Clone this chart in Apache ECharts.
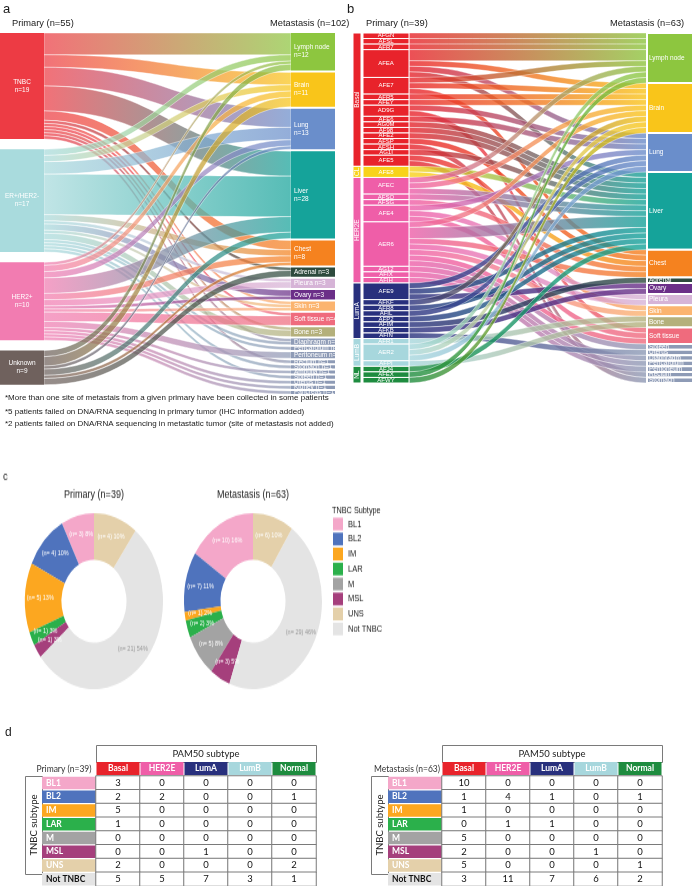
<!DOCTYPE html>
<html><head><meta charset="utf-8">
<script src="https://cdn.jsdelivr.net/npm/echarts@6/dist/echarts.min.js"></script>
<style>
html,body{margin:0;padding:0;background:#fff;}
#wrap{position:relative;width:693px;height:886px;overflow:hidden;background:#fff;}
#main{position:absolute;left:0;top:0;width:693px;height:886px;}
#pies{position:absolute;left:0;top:466px;width:693px;height:184px;transform:scaleY(1.275);transform-origin:0 0;}
</style></head><body>
<div id="wrap"><div id="main"></div><div id="pies"></div></div>
<script>
// ================= DATA =================
// Panel a
const aPrimary = ['TNBC', 'ER+/HER2-', 'HER2+', 'Unknown'];
const aPrimaryN = [19, 17, 10, 9];
const aSites = ['Lymph node', 'Brain', 'Lung', 'Liver', 'Chest', 'Adrenal', 'Pleura', 'Ovary', 'Skin', 'Soft tissue', 'Bone',
  'Diaphragm', 'Pericardium', 'Peritoneum', 'Rectum', 'Stomach', 'Ampulla', 'Spleen', 'Uterus', 'Kidney', 'Pancreas'];
const aLinks = [
  ['TNBC', 'Lymph node', 7], ['TNBC', 'Brain', 4], ['TNBC', 'Lung', 6], ['TNBC', 'Liver', 8], ['TNBC', 'Chest', 3],
  ['TNBC', 'Adrenal', 1], ['TNBC', 'Skin', 1], ['TNBC', 'Soft tissue', 1], ['TNBC', 'Bone', 1], ['TNBC', 'Diaphragm', 1], ['TNBC', 'Rectum', 1],
  ['ER+/HER2-', 'Lymph node', 2], ['ER+/HER2-', 'Brain', 2], ['ER+/HER2-', 'Lung', 4], ['ER+/HER2-', 'Liver', 13], ['ER+/HER2-', 'Chest', 2],
  ['ER+/HER2-', 'Pleura', 1], ['ER+/HER2-', 'Ovary', 2], ['ER+/HER2-', 'Skin', 1], ['ER+/HER2-', 'Bone', 2], ['ER+/HER2-', 'Diaphragm', 1],
  ['ER+/HER2-', 'Pericardium', 1], ['ER+/HER2-', 'Stomach', 1], ['ER+/HER2-', 'Spleen', 1],
  ['HER2+', 'Lymph node', 1], ['HER2+', 'Brain', 2], ['HER2+', 'Lung', 2], ['HER2+', 'Liver', 5], ['HER2+', 'Chest', 2],
  ['HER2+', 'Pleura', 2], ['HER2+', 'Ovary', 1], ['HER2+', 'Skin', 1], ['HER2+', 'Soft tissue', 3], ['HER2+', 'Peritoneum', 2],
  ['HER2+', 'Ampulla', 1], ['HER2+', 'Uterus', 1], ['HER2+', 'Kidney', 1], ['HER2+', 'Pancreas', 1],
  ['Unknown', 'Lymph node', 2], ['Unknown', 'Brain', 3], ['Unknown', 'Lung', 1], ['Unknown', 'Liver', 2], ['Unknown', 'Chest', 1], ['Unknown', 'Adrenal', 2]
];

// Panel b
const bSubtypes = ['Basal', 'CL', 'HER2E', 'LumA', 'LumB', 'NL'];
const bPatients = ['AFGN', 'AFSL', 'AFR7', 'AFEA', 'AFE7', 'AFR5', 'AFEY', 'AD9G', 'AFE6', 'AG0M', 'AF98', 'AFE2', 'AFSP', 'AFSH', 'AG1I', 'AFE5',
  'AFE8',
  'AFEC', 'AFSQ', 'AFSG', 'AFE4', 'AER6', 'AG12', 'AFIX', 'AFIH',
  'AFE9', 'AFKF', 'AFR8', 'AFIL', 'AFP2', 'AFIM', 'AFKB', 'AFIN',
  'AFR1', 'AER2', 'AFPI',
  'AFJ4', 'AFEX', 'AFWY'];
const bPatientSubtype = ['Basal', 'Basal', 'Basal', 'Basal', 'Basal', 'Basal', 'Basal', 'Basal', 'Basal', 'Basal', 'Basal', 'Basal', 'Basal', 'Basal', 'Basal', 'Basal',
  'CL',
  'HER2E', 'HER2E', 'HER2E', 'HER2E', 'HER2E', 'HER2E', 'HER2E', 'HER2E',
  'LumA', 'LumA', 'LumA', 'LumA', 'LumA', 'LumA', 'LumA', 'LumA',
  'LumB', 'LumB', 'LumB',
  'NL', 'NL', 'NL'];
const bSites = ['Lymph node', 'Brain', 'Lung', 'Liver', 'Chest', 'Adrenal', 'Ovary', 'Pleura', 'Skin', 'Bone', 'Soft tissue',
  'Spleen', 'Uterus', 'Diaphragm', 'Pericardium', 'Peritoneum', 'Rectum', 'Stomach'];
const bLinks = [
  ['AFGN', 'Lymph node', 1], ['AFSL', 'Lymph node', 1], ['AFR7', 'Lymph node', 1],
  ['AFEA', 'Lymph node', 2], ['AFEA', 'Brain', 1], ['AFEA', 'Lung', 1], ['AFEA', 'Liver', 1],
  ['AFE7', 'Lymph node', 1], ['AFE7', 'Brain', 1], ['AFE7', 'Chest', 1],
  ['AFR5', 'Brain', 1], ['AFEY', 'Brain', 1], ['AD9G', 'Lung', 1], ['AD9G', 'Soft tissue', 1],
  ['AFE6', 'Lung', 1], ['AG0M', 'Liver', 1], ['AF98', 'Liver', 1], ['AFE2', 'Liver', 1], ['AFSP', 'Chest', 1],
  ['AFSH', 'Rectum', 1], ['AG1I', 'Liver', 1], ['AFE5', 'Skin', 1], ['AFE5', 'Stomach', 1],
  ['AFE8', 'Liver', 1], ['AFE8', 'Chest', 1],
  ['AFEC', 'Lymph node', 1], ['AFEC', 'Brain', 1], ['AFEC', 'Liver', 1], ['AFSQ', 'Liver', 1], ['AFSG', 'Chest', 1],
  ['AFE4', 'Lung', 1], ['AFE4', 'Pleura', 1], ['AFE4', 'Soft tissue', 1],
  ['AER6', 'Brain', 1], ['AER6', 'Liver', 2], ['AER6', 'Chest', 1], ['AER6', 'Pleura', 1], ['AER6', 'Skin', 1], ['AER6', 'Soft tissue', 1], ['AER6', 'Spleen', 1],
  ['AG12', 'Diaphragm', 1], ['AFIX', 'Pericardium', 1], ['AFIH', 'Peritoneum', 1],
  ['AFE9', 'Lung', 1], ['AFE9', 'Liver', 1], ['AFE9', 'Ovary', 1],
  ['AFKF', 'Brain', 1], ['AFR8', 'Liver', 1], ['AFIL', 'Lung', 1], ['AFP2', 'Liver', 1], ['AFIM', 'Adrenal', 1], ['AFKB', 'Ovary', 1], ['AFIN', 'Uterus', 1],
  ['AFR1', 'Bone', 1], ['AER2', 'Lymph node', 1], ['AER2', 'Brain', 1], ['AER2', 'Lung', 1], ['AFPI', 'Bone', 1],
  ['AFJ4', 'Liver', 1], ['AFEX', 'Lymph node', 1], ['AFWY', 'Brain', 1]
];

// Panel c
const tnbcCats = ['BL1', 'BL2', 'IM', 'LAR', 'M', 'MSL', 'UNS', 'Not TNBC'];
const piePrimary = [3, 4, 5, 1, 0, 1, 4, 21];
const pieMetastasis = [10, 7, 1, 2, 5, 3, 6, 29];

// Panel d
const pamCols = ['Basal', 'HER2E', 'LumA', 'LumB', 'Normal'];
const tablePrimary = [
  [3, 0, 0, 0, 0], [2, 2, 0, 0, 1], [5, 0, 0, 0, 0], [1, 0, 0, 0, 0],
  [0, 0, 0, 0, 0], [0, 0, 1, 0, 0], [2, 0, 0, 0, 2], [5, 5, 7, 3, 1]
];
const tableMetastasis = [
  [10, 0, 0, 0, 0], [1, 4, 1, 0, 1], [1, 0, 0, 0, 0], [0, 1, 1, 0, 0],
  [5, 0, 0, 0, 0], [2, 0, 0, 1, 0], [5, 0, 0, 0, 1], [3, 11, 7, 6, 2]
];

// ================= STYLES =================
const FONT = 'Liberation Sans';
const aPrimaryColors = ['#ed3b44', '#a9dbdd', '#f27cb1', '#6f615d'];
const siteColorMap = {
  'Lymph node': '#8dc63f', 'Brain': '#f9c51a', 'Lung': '#6a8ecb', 'Liver': '#15a39a', 'Chest': '#f5821f',
  'Adrenal': '#2d4a3d', 'Pleura': '#d6b4d7', 'Ovary': '#6b2f88', 'Skin': '#fbb46f', 'Soft tissue': '#ef6b7d', 'Bone': '#b4b07b'
};
const minorSiteColor = '#8e9bb6';
const siteColor = s => siteColorMap[s] || minorSiteColor;
const bSubtypeColors = ['#e8232b', '#f8d31a', '#ef5ea8', '#28307d', '#a7d7dd', '#1e8c3f'];
const pamColors = ['#e8232b', '#ef5ea8', '#28307d', '#a7d7dd', '#1e8c3f'];
const tnbcColors = ['#f4a7c9', '#4f73bd', '#fca720', '#2bb04b', '#a3a3a3', '#a53f7c', '#e4d0aa', '#e4e4e4'];
const pieDrawOrder = [0, 1, 2, 3, 4, 5, 7, 6]; // counter-clockwise from 12 o'clock, UNS closes the ring
const GAP_UNITS = 2; // visual spacer between primary groups in panel a

// ================= PANEL a nodes =================
const sumTo = (links, t) => links.filter(l => l[1] === t).reduce((s, l) => s + l[2], 0);
const sumFrom = (links, t) => links.filter(l => l[0] === t).reduce((s, l) => s + l[2], 0);
const aNodes = [];
aPrimary.forEach((p, i) => {
  if (i > 0) aNodes.push({ name: '__gap' + i, value: GAP_UNITS, depth: 0, itemStyle: { color: 'rgba(0,0,0,0)' }, label: { show: false } });
  aNodes.push({ name: p, depth: 0, itemStyle: { color: aPrimaryColors[i] },
    label: { show: true, position: 'inside', align: 'center', formatter: p + '\nn=' + aPrimaryN[i] } });
});
aSites.forEach(s => {
  const n = sumTo(aLinks, s);
  aNodes.push({ name: s, depth: 1, itemStyle: { color: siteColor(s) },
    label: { show: true, position: 'insideLeft', distance: 3, formatter: n >= 8 ? s + '\nn=' + n : s + ' n=' + n } });
});

// ================= PANEL b nodes =================
const b1Nodes = [], b1Links = [], b2Nodes = [];
bSubtypes.forEach((s, i) => b1Nodes.push({ name: 'st_' + s, depth: 0, itemStyle: { color: bSubtypeColors[i], borderColor: '#fff', borderWidth: 1 },
  label: { show: true, position: 'inside', rotate: 90, formatter: s, fontSize: 6.5 } }));
bPatients.forEach((p, i) => {
  const tot = sumFrom(bLinks, p);
  b1Nodes.push({ name: p, depth: 1, itemStyle: { color: 'rgba(0,0,0,0)' }, label: { show: false } });
  b1Links.push({ source: 'st_' + bPatientSubtype[i], target: p, value: tot });
  b2Nodes.push({ name: p, depth: 0,
    itemStyle: { color: bSubtypeColors[bSubtypes.indexOf(bPatientSubtype[i])], borderColor: '#fff', borderWidth: 1 },
    label: { show: true, position: 'inside', formatter: p, fontSize: 6 } });
});
bSites.forEach(s => b2Nodes.push({ name: s, depth: 1, itemStyle: { color: siteColor(s), borderColor: '#fff', borderWidth: 2 },
  label: { show: true, position: 'insideLeft', distance: 3, formatter: s, fontSize: 6.5 } }));

// ================= TABLES =================
function heat(m) { const d = []; m.forEach((row, r) => row.forEach((v, c) => d.push([c, r, v]))); return d; }
const colRich = {}; pamCols.forEach((c, i) => colRich['c' + i] = {
  backgroundColor: pamColors[i], color: '#fff', fontWeight: 'bold', fontSize: 8.5, fontFamily: 'Lato',
  width: 43, height: 13, lineHeight: 13, align: 'center', verticalAlign: 'middle' });
const rowRich = {}; tnbcCats.forEach((c, i) => rowRich['r' + i] = {
  backgroundColor: tnbcColors[i], color: i === 7 ? '#111' : '#fff', fontWeight: 'bold', fontSize: 8.5, fontFamily: 'Lato',
  width: 50, height: 12.5, lineHeight: 13, padding: [0, 0, 0, 4], align: 'left', verticalAlign: 'middle' });

function tableAxes(gi) {
  return {
    x: { gridIndex: gi, type: 'category', data: pamCols, position: 'top',
      axisLine: { show: false }, axisTick: { show: false }, splitLine: { show: false },
      axisLabel: { interval: 0, margin: 1, formatter: (v, i) => '{c' + i + '|' + v + '}', rich: colRich } },
    y: { gridIndex: gi, type: 'category', data: tnbcCats, inverse: true,
      axisLine: { show: false }, axisTick: { show: false }, splitLine: { show: false },
      axisLabel: { interval: 0, margin: 0, formatter: (v, i) => '{r' + i + '|' + v + '}', rich: rowRich } }
  };
}
const t1 = tableAxes(0), t2 = tableAxes(1);
const heatSeries = (gi, m) => ({ type: 'heatmap', xAxisIndex: gi, yAxisIndex: gi, data: heat(m), silent: true,
  itemStyle: { color: '#fff', borderColor: '#7a7a7a', borderWidth: 1 }, emphasis: { disabled: true },
  label: { show: true, formatter: p => p.value[2], fontSize: 9.5, fontFamily: 'Lato', color: '#111' } });

// ================= TEXTS & TABLE FRAMES =================
const txt = (t, x, y, size, opts, extra) => Object.assign({ type: 'text', x: x, y: y, silent: true,
  style: Object.assign({ text: t, fontSize: size, fontFamily: FONT, fill: '#1a1a1a', verticalAlign: 'middle', align: 'left' }, (opts || {})) }, extra || {});
const frame = (x, y, w, h) => ({ type: 'rect', silent: true, shape: { x: x + 0.5, y: y + 0.5, width: w, height: h },
  style: { fill: '#fff', stroke: '#7a7a7a', lineWidth: 1 } });
function tableDecor(x0, label, labelX) {
  return [
    frame(x0, 745, 220, 17),
    txt('PAM50 subtype', x0 + 110, 754, 9.5, { align: 'center', fontFamily: 'Lato', fill: '#222' }),
    frame(x0 - 71, 776, 17, 98),
    txt('TNBC subtype', x0 - 62, 825, 9.5, { align: 'center', fontFamily: 'Lato', fill: '#222' }, { rotation: Math.PI / 2 }),
    txt(label, labelX, 769, 8.5, { align: 'center', fontFamily: 'Lato', fill: '#333' })
  ];
}

const mainChart = echarts.init(document.getElementById('main'), null, { width: 693, height: 886 });
mainChart.setOption({
  animation: false,
  graphic: [
    txt('a', 3, 9, 13), txt('Primary (n=55)', 12, 23, 9.3), txt('Metastasis (n=102)', 270, 23, 9.3),
    txt('b', 347, 9, 13), txt('Primary (n=39)', 366, 23, 9.3), txt('Metastasis (n=63)', 610, 23, 9.3),
    txt('*More than one site of metastais from a given primary have been collected in some patients', 5, 398, 8),
    txt('*5 patients failed on DNA/RNA sequencing in primary tumor (IHC information added)', 5, 412, 8),
    txt('*2 patients failed on DNA/RNA sequencing in metastatic tumor (site of metastasis not added)', 5, 424, 8),
    txt('d', 5, 733, 12)
  ].concat(tableDecor(96, 'Primary (n=39)', 64), tableDecor(442, 'Metastasis (n=63)', 407)),
  grid: [
    { left: 96, top: 776, width: 220, height: 110, outerBoundsMode: 'none' },
    { left: 442, top: 776, width: 220, height: 110, outerBoundsMode: 'none' }
  ],
  xAxis: [t1.x, t2.x],
  yAxis: [t1.y, t2.y],
  series: [
    { type: 'sankey', left: 0, top: 33, width: 335, height: 361, nodeWidth: 44, nodeGap: 2, layoutIterations: 0,
      nodeAlign: 'justify', draggable: false, silent: true, emphasis: { disabled: true },
      data: aNodes, links: aLinks.map(l => ({ source: l[0], target: l[1], value: l[2] })),
      lineStyle: { color: 'gradient', opacity: 0.72, curveness: 0.5, borderColor: '#fff', borderWidth: 0.6 },
      label: { color: '#fff', fontSize: 6.5, fontFamily: FONT, lineHeight: 8 } },
    { type: 'sankey', left: 353, top: 33, width: 40, height: 350, nodeWidth: 8, nodeGap: 0, layoutIterations: 0,
      nodeAlign: 'justify', draggable: false, silent: true, emphasis: { disabled: true },
      data: b1Nodes, links: b1Links, lineStyle: { opacity: 0 },
      label: { color: '#fff', fontFamily: FONT } },
    { type: 'sankey', left: 363, top: 33, width: 330, height: 350, nodeWidth: 46, nodeGap: 0, layoutIterations: 0,
      nodeAlign: 'justify', draggable: false, silent: true, emphasis: { disabled: true },
      data: b2Nodes, links: bLinks.map(l => ({ source: l[0], target: l[1], value: l[2] })),
      lineStyle: { color: 'gradient', opacity: 0.8, curveness: 0.5, borderColor: '#fff', borderWidth: 0.5 },
      label: { color: '#fff', fontFamily: FONT, lineHeight: 7 } },
    heatSeries(0, tablePrimary),
    heatSeries(1, tableMetastasis)
  ]
});

// ================= PANEL c (pies, vertically stretched like the figure) =================
function pieData(vals) {
  return pieDrawOrder.map(i => ({ name: tnbcCats[i], value: vals[i], itemStyle: { color: tnbcColors[i] },
    label: { show: vals[i] > 0, color: i === 7 ? '#9a9a9a' : '#fff' } }));
}
const pieSeries = (cx, vals) => ({ type: 'pie', center: [cx, 106], radius: [32.5, 69], clockwise: false, startAngle: 90,
  silent: true, emphasis: { disabled: true }, data: pieData(vals), labelLine: { show: false },
  label: { position: 'inside', fontSize: 5.5, fontFamily: FONT, formatter: p => '(n= ' + p.value + ') ' + Math.round(p.percent) + '%' } });

const pieChart = echarts.init(document.getElementById('pies'), null, { width: 693, height: 184 });
pieChart.setOption({
  animation: false,
  graphic: [
    txt('c', 3, 8, 9.5),
    txt('Primary (n=39)', 94, 23, 9, { align: 'center' }),
    txt('Metastasis (n=63)', 253, 23, 9, { align: 'center' }),
    txt('TNBC Subtype', 332, 34.5, 7.3)
  ],
  legend: { orient: 'vertical', left: 333, top: 40.5, padding: 0, itemWidth: 10, itemHeight: 10, itemGap: 1.76, icon: 'rect',
    selectedMode: false, data: tnbcCats, textStyle: { fontSize: 7.5, fontFamily: FONT, color: '#222' } },
  series: [pieSeries(94, piePrimary), pieSeries(253, pieMetastasis)]
});
</script>
</body></html>
